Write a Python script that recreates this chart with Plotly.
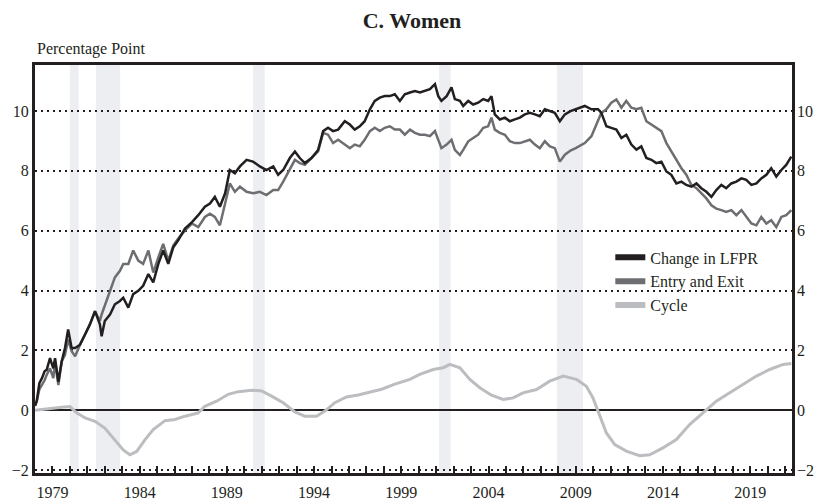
"""Women: change in LFPR decomposed into entry/exit and cycle."""

import plotly.graph_objects as go

# decimal years, with the two noisy series at the same points
years = [
    1978.0, 1978.1, 1978.25, 1978.4, 1978.55, 1978.67, 1978.86, 1979.05, 1979.15, 1979.34,
    1979.53, 1979.72, 1979.9, 1980.1, 1980.3, 1980.58, 1980.87, 1981.15, 1981.44, 1981.72,
    1981.82, 1982.0, 1982.3, 1982.58, 1982.87, 1983.06, 1983.35, 1983.63, 1983.92, 1984.2,
    1984.5, 1984.78, 1985.07, 1985.35, 1985.64, 1985.93, 1986.2, 1986.6, 1987.0, 1987.36,
    1987.74, 1988.03, 1988.31, 1988.6, 1988.9, 1989.17, 1989.46, 1989.75, 1990.13, 1990.5,
    1990.89, 1991.27, 1991.66, 1991.94, 1992.23, 1992.61, 1992.9, 1993.18, 1993.47, 1993.85,
    1994.23, 1994.52, 1994.8, 1995.09, 1995.38, 1995.76, 1996.05, 1996.33, 1996.62, 1996.9,
    1997.2, 1997.48, 1997.77, 1998.05, 1998.34, 1998.63, 1998.92, 1999.2, 1999.5, 1999.78,
    2000.07, 2000.35, 2000.64, 2000.93, 2001.12, 2001.3, 2001.6, 2001.88, 2002.07, 2002.36,
    2002.55, 2002.84, 2003.12, 2003.41, 2003.7, 2003.98, 2004.17, 2004.36, 2004.65, 2004.94,
    2005.22, 2005.51, 2005.8, 2006.08, 2006.37, 2006.66, 2006.94, 2007.23, 2007.52, 2007.8,
    2008.09, 2008.38, 2008.7, 2009.0, 2009.3, 2009.52, 2009.9, 2010.28, 2010.47, 2010.76,
    2011.04, 2011.33, 2011.62, 2011.9, 2012.19, 2012.48, 2012.76, 2013.05, 2013.34, 2013.62,
    2013.91, 2014.2, 2014.48, 2014.77, 2015.06, 2015.34, 2015.63, 2015.92, 2016.2, 2016.49,
    2016.78, 2017.06, 2017.35, 2017.63, 2017.92, 2018.21, 2018.5, 2018.78, 2019.07, 2019.36,
    2019.64, 2019.93, 2020.21, 2020.5, 2020.79, 2021.07, 2021.36,
]
lfpr_change = [
    0.15, 0.3, 0.9, 1.07, 1.3, 1.35, 1.74, 1.4, 1.74, 0.95,
    1.63, 2.08, 2.7, 2.08, 2.08, 2.19, 2.53, 2.87, 3.31, 2.87,
    2.47, 2.98, 3.2, 3.54, 3.65, 3.76, 3.43, 3.88, 3.99, 4.16,
    4.55, 4.27, 4.89, 5.34, 4.89, 5.45, 5.67, 6.07, 6.29, 6.52,
    6.8, 6.91, 7.13, 6.8, 7.25, 8.03, 7.92, 8.15, 8.37, 8.31,
    8.15, 8.03, 8.15, 7.87, 8.03, 8.43, 8.65, 8.43, 8.26, 8.43,
    8.7, 9.33, 9.44, 9.33, 9.38, 9.66, 9.55, 9.38, 9.49, 9.66,
    10.06, 10.34, 10.45, 10.5, 10.5, 10.56, 10.34, 10.56, 10.62, 10.67,
    10.62, 10.67, 10.73, 10.9, 10.5, 10.34, 10.5, 10.79, 10.4, 10.34,
    10.17, 10.34, 10.22, 10.28, 10.4, 10.34, 10.5, 9.89, 9.72, 9.78,
    9.66, 9.72, 9.78, 9.89, 9.94, 9.89, 9.83, 10.06, 10.0, 9.94,
    9.66, 9.89, 10.0, 10.06, 10.1, 10.17, 10.06, 10.06, 9.94, 9.49,
    9.44, 9.38, 9.1, 9.21, 8.88, 8.71, 8.82, 8.43, 8.37, 8.26,
    8.31, 7.98, 7.87, 7.58, 7.64, 7.53, 7.47, 7.58, 7.42, 7.3,
    7.13, 7.36, 7.53, 7.42, 7.58, 7.64, 7.75, 7.7, 7.53, 7.58,
    7.75, 7.87, 8.09, 7.81, 8.03, 8.2, 8.48,
]
entry_exit = [
    0.15, 0.3, 0.7, 0.84, 1.0, 1.18, 1.4, 1.07, 1.6, 0.84,
    1.63, 1.85, 2.36, 1.97, 1.8, 2.19, 2.53, 2.87, 3.31, 2.98,
    3.2, 3.48, 3.99, 4.44, 4.66, 4.89, 4.89, 5.34, 5.0, 4.89,
    5.34, 4.6, 5.11, 5.56, 5.0, 5.5, 5.73, 6.01, 6.24, 6.12,
    6.46, 6.57, 6.46, 6.18, 6.91, 7.58, 7.3, 7.47, 7.3, 7.25,
    7.3, 7.19, 7.36, 7.36, 7.64, 8.03, 8.37, 8.26, 8.2, 8.43,
    8.65, 9.27, 9.21, 8.93, 9.04, 8.88, 8.76, 8.88, 8.82, 9.04,
    9.33, 9.44, 9.33, 9.44, 9.49, 9.38, 9.38, 9.21, 9.38, 9.27,
    9.21, 9.21, 9.16, 9.33, 9.04, 8.76, 8.88, 9.04, 8.7, 8.53,
    8.7, 8.99, 9.1, 9.21, 9.44, 9.49, 9.78, 9.38, 9.27, 9.21,
    8.99, 8.93, 8.93, 8.99, 9.04, 8.88, 8.76, 8.99, 8.82, 8.76,
    8.31, 8.54, 8.68, 8.76, 8.85, 8.93, 9.16, 9.66, 9.94, 10.06,
    10.28, 10.39, 10.11, 10.34, 10.11, 10.06, 10.11, 9.66, 9.55, 9.44,
    9.33, 8.93, 8.65, 8.37, 8.09, 7.87, 7.53, 7.42, 7.25, 7.08,
    6.85, 6.74, 6.69, 6.63, 6.69, 6.52, 6.69, 6.46, 6.24, 6.18,
    6.46, 6.24, 6.35, 6.12, 6.46, 6.52, 6.69,
]

cycle_years = [
    1978.0, 1978.76, 1979.53, 1980.0, 1980.39, 1980.87, 1981.44, 1982.0, 1982.58, 1983.06,
    1983.44, 1983.83, 1984.3, 1984.78, 1985.45, 1986.02, 1986.6, 1987.36, 1987.74, 1988.41,
    1989.08, 1989.65, 1990.42, 1991.0, 1991.56, 1992.23, 1992.9, 1993.47, 1994.14, 1994.62,
    1995.19, 1995.86, 1996.53, 1997.1, 1997.87, 1998.63, 1999.49, 2000.06, 2000.83, 2001.4,
    2001.78, 2002.36, 2002.93, 2003.5, 2004.17, 2004.84, 2005.41, 2005.98, 2006.75, 2007.51,
    2008.28, 2009.04, 2009.61, 2009.99, 2010.38, 2010.76, 2011.24, 2011.9, 2012.67, 2013.24,
    2014.0, 2014.77, 2015.53, 2016.3, 2017.06, 2017.83, 2018.6, 2019.36, 2020.12, 2020.89,
    2021.36,
]
cycle = [
    0.0, 0.06, 0.1, 0.12, -0.09, -0.26, -0.37, -0.6, -0.99, -1.33,
    -1.49, -1.38, -0.99, -0.65, -0.35, -0.31, -0.2, -0.09, 0.13, 0.3,
    0.53, 0.62, 0.67, 0.64, 0.47, 0.25, -0.06, -0.2, -0.2, -0.03,
    0.25, 0.44, 0.51, 0.58, 0.7, 0.87, 1.03, 1.2, 1.36, 1.42,
    1.53, 1.42, 1.03, 0.75, 0.5, 0.36, 0.41, 0.58, 0.69, 0.97,
    1.14, 1.03, 0.8, 0.41, -0.2, -0.76, -1.15, -1.37, -1.52, -1.49,
    -1.26, -0.98, -0.48, -0.09, 0.3, 0.58, 0.86, 1.14, 1.36, 1.53,
    1.56,
]

# NBER recessions (start, end) as decimal years
recessions = [(1980.0, 1980.5), (1981.5, 1982.88), (1990.5, 1991.17),
              (2001.17, 2001.83), (2007.92, 2009.42)]

y_ticks = [-2, 0, 2, 4, 6, 8, 10]
x_labels = [1979, 1984, 1989, 1994, 1999, 2004, 2009, 2014, 2019]

SERIF = "Liberation Serif"
INK = "#231f20"
Y_RANGE = [-2.1, 11.54]

fig = go.Figure()

for start, end in recessions:
    fig.add_vrect(x0=start, x1=end, fillcolor="#eceef1", line_width=0, layer="below")

fig.add_trace(go.Scatter(x=cycle_years, y=cycle, mode="lines", name="Cycle",
                         line=dict(color="#bcbdc0", width=3), showlegend=False))
fig.add_trace(go.Scatter(x=years, y=entry_exit, mode="lines", name="Entry and Exit",
                         line=dict(color="#6d6e71", width=2.5), showlegend=False))
fig.add_trace(go.Scatter(x=years, y=lfpr_change, mode="lines", name="Change in LFPR",
                         line=dict(color=INK, width=2.5), showlegend=False))

# legend-only entries with the thicker swatches of the original
for name, color in [("Change in LFPR", INK), ("Entry and Exit", "#6d6e71"), ("Cycle", "#bcbdc0")]:
    fig.add_trace(go.Scatter(x=[None], y=[None], mode="lines", name=name,
                             line=dict(color=color, width=6)))

# invisible trace to carry the right-hand axis
fig.add_trace(go.Scatter(x=[None], y=[None], yaxis="y2", showlegend=False, hoverinfo="skip"))

fig.add_annotation(text="Percentage Point", xref="paper", yref="paper", x=0, y=1.012,
                   xanchor="left", yanchor="bottom", showarrow=False,
                   font=dict(family=SERIF, size=16, color=INK))

fig.update_layout(
    width=824, height=504,
    margin=dict(l=35, r=32, t=65, b=31),
    plot_bgcolor="white", paper_bgcolor="white",
    title=dict(text="<b>C. Women</b>", x=0.5, xanchor="center", y=0.96, yanchor="middle",
               font=dict(family=SERIF, size=22, color=INK)),
    font=dict(family=SERIF, size=16, color=INK),
    legend=dict(x=0.76, y=0.57, xanchor="left", yanchor="top", bgcolor="rgba(0,0,0,0)",
                font=dict(family=SERIF, size=16, color=INK), itemwidth=30,
                tracegroupgap=0),
    xaxis=dict(range=[1978.0, 2021.4], tickvals=x_labels, ticks="inside", ticklen=7,
               tickwidth=2, tickcolor=INK, showgrid=False, zeroline=False,
               showline=True, linecolor=INK, linewidth=3, mirror=True,
               ticklabelstandoff=3, automargin=False,
               minor=dict(tick0=1979, dtick=1, ticks="inside", ticklen=7, tickwidth=1.5,
                          tickcolor=INK, showgrid=False),
               tickfont=dict(family=SERIF, size=16, color=INK)),
    yaxis=dict(range=Y_RANGE, tickvals=y_ticks, ticks="", showgrid=True, automargin=False,
               gridcolor=INK, gridwidth=2, griddash="2px,4px",
               zeroline=True, zerolinecolor=INK, zerolinewidth=2,
               showline=True, linecolor=INK, linewidth=3, mirror=True,
               tickfont=dict(family=SERIF, size=16, color=INK)),
    yaxis2=dict(range=Y_RANGE, tickvals=y_ticks, overlaying="y", side="right",
                showgrid=False, zeroline=False, ticks="", ticklabelstandoff=4,
                automargin=False, tickfont=dict(family=SERIF, size=16, color=INK)),
)

# the page's default body margin would push the figure 8px right and down
fig.write_html("out.html", config={"displayModeBar": False},
               post_script="document.body.style.margin='0';")
